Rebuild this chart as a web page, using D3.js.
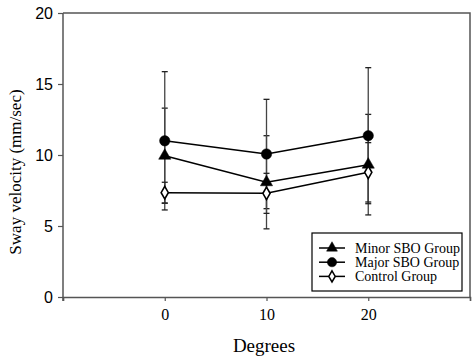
<!DOCTYPE html>
<html>
<head>
    <meta charset="utf-8" />
    <script src="https://d3js.org/d3.v7.min.js"></script>
    <style>
        body { margin: 0; background: #fff; }
    </style>
</head>
<body>
    <div id="chart"></div>
    <script>
        // data
        const degrees = [0, 10, 20];
        const seriesNames = ["Minor SBO Group", "Major SBO Group", "Control Group"];
        const minorMean = [9.95, 8.08, 9.32];
        const minorSD = [3.35, 3.28, 3.54];
        const majorMean = [11.0, 10.07, 11.36];
        const majorSD = [4.87, 3.85, 4.79];
        const controlMean = [7.35, 7.30, 8.78];
        const controlSD = [0.73, 1.41, 2.09];
        const yTicks = [0, 5, 10, 15, 20];

        const serif = '"Liberation Serif", "Times New Roman", serif';
        const sans = '"Liberation Sans", Arial, sans-serif';

        const series = [
            { name: seriesNames[0], mean: minorMean, sd: minorSD, symbol: d3.symbolTriangle, size: 64, fill: "#000" },
            { name: seriesNames[1], mean: majorMean, sd: majorSD, symbol: d3.symbolCircle, size: 85, fill: "#000" },
            { name: seriesNames[2], mean: controlMean, sd: controlSD, symbol: d3.symbolDiamond, size: 45, fill: "#fff" }
        ];

        const svgWidth = 472;
        const svgHeight = 358;
        const margin = { top: 13, right: 2, bottom: 61, left: 63 };
        const chartWidth = svgWidth - margin.left - margin.right;
        const chartHeight = svgHeight - margin.top - margin.bottom;

        const svg = d3.select("#chart")
            .append("svg")
            .attr("width", svgWidth)
            .attr("height", svgHeight);

        const chart = svg.append("g")
            .attr("transform", `translate(${margin.left}, ${margin.top})`);

        // scales
        const xScale = d3.scaleLinear().domain([-10, 30]).range([0, chartWidth]);
        const yScale = d3.scaleLinear().domain([0, 20]).range([chartHeight, 0]);

        const axisColor = "#555";

        // frame (top and right)
        chart.append("path")
            .attr("d", `M0,0H${chartWidth}V${chartHeight}`)
            .attr("fill", "none")
            .attr("stroke", axisColor)
            .attr("stroke-width", 1.5);

        // y axis
        const yAxis = chart.append("g")
            .call(d3.axisLeft(yScale).tickValues(yTicks).tickSize(5).tickPadding(5));
        yAxis.select(".domain").attr("stroke", axisColor).attr("stroke-width", 1.5)
            .attr("d", `M0,0V${chartHeight + 4}`);
        yAxis.selectAll(".tick line").attr("stroke", axisColor).attr("stroke-width", 1.2);
        yAxis.selectAll("text").style("font-family", sans).style("font-size", "16px").attr("fill", "#000");

        // x axis
        const xAxis = chart.append("g")
            .attr("transform", `translate(0, ${chartHeight})`)
            .call(d3.axisBottom(xScale).tickValues([-10, 0, 10, 20, 30]).tickSize(4).tickPadding(8)
                .tickFormat(d => degrees.includes(d) ? d : ""));
        xAxis.select(".domain").attr("stroke", axisColor).attr("stroke-width", 1.5);
        xAxis.selectAll(".tick line").attr("stroke", axisColor).attr("stroke-width", 1.2);
        xAxis.selectAll("text").style("font-family", serif).style("font-size", "16px").attr("fill", "#000");

        // error bars
        series.forEach(s => {
            const g = chart.append("g");
            degrees.forEach((d, i) => {
                const x = xScale(d);
                const lo = yScale(s.mean[i] - s.sd[i]);
                const hi = yScale(s.mean[i] + s.sd[i]);
                g.append("line").attr("x1", x).attr("x2", x).attr("y1", lo).attr("y2", hi)
                    .attr("stroke", "#444").attr("stroke-width", 1.3);
                [lo, hi].forEach(y => {
                    g.append("line").attr("x1", x - 3).attr("x2", x + 3).attr("y1", y).attr("y2", y)
                        .attr("stroke", "#222").attr("stroke-width", 1.3);
                });
            });
        });

        // lines
        const line = d3.line().x((d, i) => xScale(degrees[i])).y(d => yScale(d));
        series.forEach(s => {
            chart.append("path")
                .datum(s.mean)
                .attr("d", line)
                .attr("fill", "none")
                .attr("stroke", "#000")
                .attr("stroke-width", 1.5);
        });

        // markers
        series.forEach(s => {
            chart.selectAll(null)
                .data(s.mean)
                .enter().append("path")
                .attr("transform", (d, i) => `translate(${xScale(degrees[i])}, ${yScale(d)})`)
                .attr("d", d3.symbol().type(s.symbol).size(s.size))
                .attr("fill", s.fill)
                .attr("stroke", "#000")
                .attr("stroke-width", s.fill === "#fff" ? 1.6 : 0.5);
        });

        // legend
        const legend = svg.append("g").attr("transform", "translate(312, 233)");
        legend.append("rect")
            .attr("width", 150).attr("height", 58)
            .attr("fill", "#fff").attr("stroke", "#000").attr("stroke-width", 1.2);
        series.forEach((s, i) => {
            const y = 15 + i * 14.2;
            legend.append("line").attr("x1", 7).attr("x2", 33).attr("y1", y).attr("y2", y)
                .attr("stroke", "#000").attr("stroke-width", 1.5);
            legend.append("path")
                .attr("transform", `translate(20, ${y})`)
                .attr("d", d3.symbol().type(s.symbol).size(s.size * 0.8))
                .attr("fill", s.fill).attr("stroke", "#000")
                .attr("stroke-width", s.fill === "#fff" ? 1.5 : 0.5);
            legend.append("text")
                .attr("x", 43).attr("y", y + 5)
                .style("font-family", serif)
                .style("font-size", "14px")
                .text(s.name);
        });

        // axis labels
        svg.append("text")
            .attr("x", 264).attr("y", 352)
            .style("font-family", serif)
            .style("text-anchor", "middle")
            .style("font-size", "19px")
            .text("Degrees");

        svg.append("text")
            .attr("transform", "translate(21, 172) rotate(-90)")
            .style("font-family", serif)
            .style("text-anchor", "middle")
            .style("font-size", "17px")
            .text("Sway velocity (mm/sec)");
    </script>
</body>
</html>
